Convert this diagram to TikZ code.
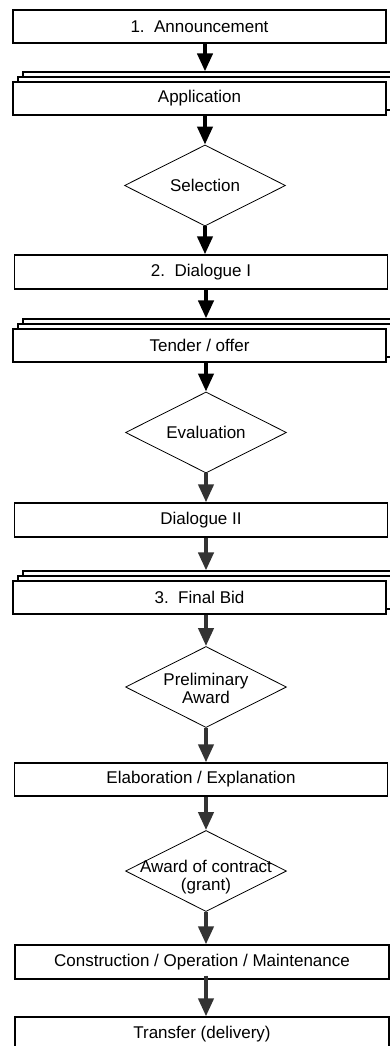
\documentclass[tikz,border=0pt]{standalone}
\usepackage{fontspec}
\setmainfont{Liberation Sans}
\usetikzlibrary{arrows.meta,shapes.geometric}
\definecolor{arrgray}{HTML}{333333}
\tikzset{
  box/.style={draw=black, line width=1.3pt, fill=white, minimum width=373pt, minimum height=33pt, inner sep=0pt, font=\fontsize{17}{18}\selectfont},
  sheet/.style={draw=black, line width=1.1pt, fill=white, minimum width=373pt, minimum height=33pt, inner sep=0pt},
  dia/.style={draw=black, line width=0.8pt, shape=diamond, minimum width=161pt, minimum height=81pt, inner sep=0pt, aspect=2},
  ditext/.style={font=\fontsize{17}{18}\selectfont, align=center, inner sep=0pt},
  arr/.style={line width=4pt, draw=black, -{Triangle[length=18pt,width=15pt]}, shorten >=0pt},
  arrg/.style={arr, draw=arrgray, fill=arrgray}
}
\begin{document}
\begin{tikzpicture}[x=1pt,y=-1pt]
\useasboundingbox (0,0) rectangle (390,1046);
\fill[white] (0,0) rectangle (390,1046);
% nodes
\node[box] (ann) at (199.5,26.5) {1.\ \ Announcement};
\node[sheet] (app3) at (209.5,88.5) {};
\node[sheet] (app2) at (204.5,93.5) {};
\node[box] (app) at (199.5,98.5) {Application};
\node[dia] (sel) at (205,185.5) {};
\node[ditext] (selT) at (sel.center) {Selection};
\node[box, minimum height=34pt] (dia1) at (201,272) {2.\ \ Dialogue I};
\node[sheet] (ten3) at (209.5,335.5) {};
\node[sheet] (ten2) at (204.5,340.5) {};
\node[box] (ten) at (199.5,345.5) {Tender / offer};
\node[dia] (eva) at (206,432.5) {};
\node[ditext] (evaT) at (eva.center) {Evaluation};
\node[box, minimum height=34pt] (dia2) at (201,520) {Dialogue II};
\node[sheet] (fin3) at (209.5,587.5) {};
\node[sheet] (fin2) at (204.5,592.5) {};
\node[box] (fin) at (199.5,597.5) {3.\ \ Final Bid};
\node[dia] (pre) at (206,687) {};
\node[ditext] (preT) at (206,688) {Preliminary\\Award};
\node[box] (ela) at (201,779.5) {Elaboration / Explanation};
\node[dia] (awd) at (206,871) {};
\node[ditext] (awdT) at (206,877) {Award of contract\\(grant)};
\node[box, minimum width=374pt, minimum height=34pt] (con) at (202,962) {Construction / Operation / Maintenance};
\node[box, minimum width=374pt, minimum height=34pt] (tra) at (202,1034) {Transfer (delivery)};
% connectors
\draw[arr] (ann.south -| sel.north) -- (app3.north -| sel.north);
\draw[arr] (app.south -| sel.north) -- (sel.north);
\draw[arr] (sel.south) -- (dia1.north -| sel.south);
\draw[arr] (dia1.south -| eva.north) -- (ten3.north -| eva.north);
\draw[arr] (ten.south -| eva.north) -- (eva.north);
\draw[arrg] (eva.south) -- (dia2.north -| eva.south);
\draw[arrg] (dia2.south -| pre.north) -- (fin3.north -| pre.north);
\draw[arrg] (fin.south -| pre.north) -- (pre.north);
\draw[arrg] (pre.south) -- (ela.north -| pre.south);
\draw[arrg] (ela.south -| awd.north) -- (awd.north);
\draw[arrg] (awd.south) -- (con.north -| awd.south);
\draw[arrg] ([yshift=4pt]con.south -| awd.south) -- (tra.north -| awd.south);
\end{tikzpicture}
\end{document}
